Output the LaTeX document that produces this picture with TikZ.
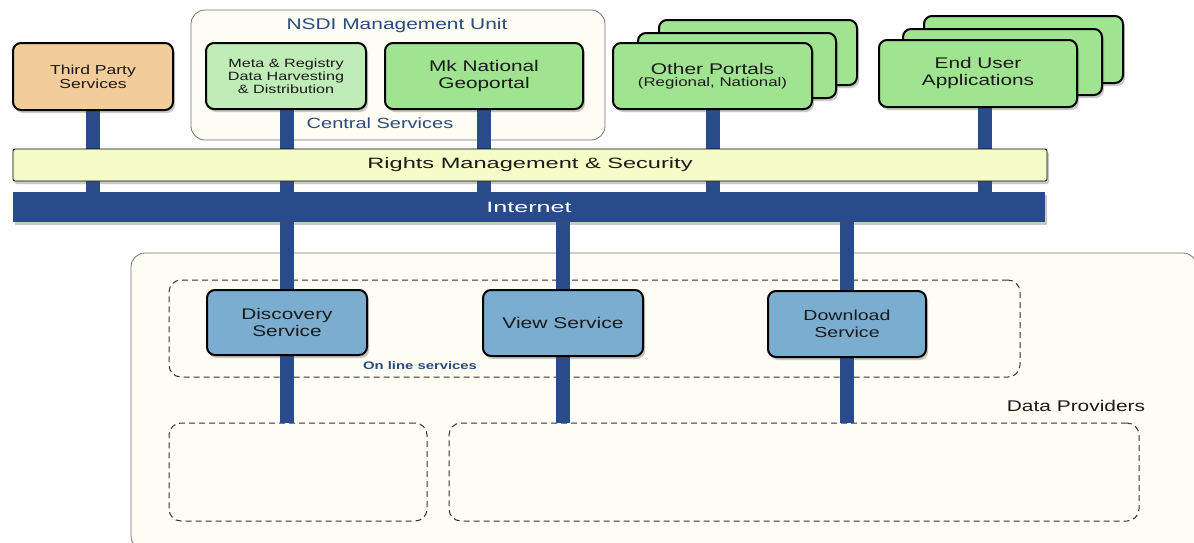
\documentclass[tikz,border=0pt]{standalone}
\usepackage{graphicx}
\usepackage{fontspec}
\setmainfont{Liberation Sans}[FakeStretch=1.35]
\usetikzlibrary{shadows}
\definecolor{conn}{HTML}{2A4B8A}
\definecolor{cream}{HTML}{FDFDF3}
\definecolor{rightsfill}{HTML}{F5FCC7}
\definecolor{orangefill}{HTML}{F2CD9B}
\definecolor{lightgreen}{HTML}{C0ECB8}
\definecolor{green}{HTML}{A0E391}
\definecolor{svcblue}{HTML}{7BADD0}
\definecolor{titleblue}{HTML}{2C4A7E}
\definecolor{txt}{HTML}{1A1A1A}
\pgfdeclarelayer{bg}
\pgfdeclarelayer{lines}
\pgfsetlayers{bg,lines,main}
\tikzset{
  shad/.style={drop shadow={shadow xshift=2pt, shadow yshift=-3pt, opacity=0.3, fill=black!70}},
  box/.style={draw=black, line width=2pt, rounded corners=8pt, align=center, text=txt, inner sep=0pt, shad},
  container/.style={draw=black!55, line width=0.8pt, rounded corners=14pt, fill=cream, inner sep=0pt},
  dashbox/.style={draw=black!80, dashed, dash pattern=on 6pt off 4pt, line width=1pt, rounded corners=12pt, inner sep=0pt},
  connector/.style={draw=conn, line width=14pt},
  fs/.style={font=\fontsize{#1}{17}\selectfont}
}
\begin{document}
\begin{tikzpicture}[x=1pt,y=-1pt]
\useasboundingbox (0,0) rectangle (1194,542);
% containers
\begin{pgfonlayer}{bg}
\node[container, minimum width=414pt, minimum height=130pt] (nsdi) at (398,75) {};
\node[container, minimum width=1066pt, minimum height=297pt] (dp) at (664,401.5) {};
\node[dashbox, minimum width=851pt, minimum height=97pt] (online) at (594.5,328.5) {};
\node[dashbox, minimum width=258pt, minimum height=98pt] (dpl) at (298,472) {};
\node[dashbox, minimum width=690pt, minimum height=98pt] (dpr) at (794,472) {};
\end{pgfonlayer}
% labels
\node[text=titleblue, fs=15.5] (nsdititle) at (397,25.5) {NSDI Management Unit};
\node[text=titleblue, fs=14.8] (central) at (380,123.5) {Central Services};
\node[text=titleblue, font=\fontsize{11}{12}\selectfont\bfseries] (onlinelbl) at (420,366) {On line services};
\node[text=txt, fs=15.5] (dplbl) at (1076,405.5) {Data Providers};
% top boxes
\node[box, fill=orangefill, minimum width=160pt, minimum height=67pt, font=\fontsize{13}{14}\selectfont] (third) at (93,76.5) {Third Party\\Services};
\node[box, fill=lightgreen, minimum width=160pt, minimum height=66pt, font=\fontsize{12}{13}\selectfont] (meta) at (286,76) {Meta \& Registry\\Data Harvesting\\\& Distribution};
\node[box, fill=green, minimum width=198pt, minimum height=66pt, font=\fontsize{15.4}{17}\selectfont] (geo) at (484,76) {Mk National\\Geoportal};
\node[box, fill=green, minimum width=198pt, minimum height=65pt] (otherb) at (758,52.5) {};
\node[box, fill=green, minimum width=198pt, minimum height=65pt] (otherm) at (737,65.5) {};
\node[box, fill=green, minimum width=199pt, minimum height=66pt] (other) at (712.5,76) {{\fontsize{15.5}{17}\selectfont Other Portals}\\[0pt]{\fontsize{12.5}{14}\selectfont (Regional, National)}};
\node[box, fill=green, minimum width=199pt, minimum height=67pt] (eub) at (1023.5,49.5) {};
\node[box, fill=green, minimum width=199pt, minimum height=66pt] (eum) at (1002.5,62) {};
\node[box, fill=green, minimum width=198pt, minimum height=67pt, font=\fontsize{15.4}{17}\selectfont] (eu) at (978,73.5) {End User\\Applications};
% bars
\node[draw=black, line width=0.8pt, rounded corners=2pt, fill=rightsfill, minimum width=1034pt, minimum height=32pt, inner sep=0pt, text=txt, fs=15, shad] (rights) at (530,165) {\raisebox{-2pt}{\scalebox{1.165}[1]{Rights Management \& Security}}};
\node[fill=conn, minimum width=1032pt, minimum height=30pt, inner sep=0pt, text=white, fs=15, shad] (internet) at (529,207) {\raisebox{-1pt}{\scalebox{1.24}[1]{Internet}}};
% services
\node[box, fill=svcblue, minimum width=160pt, minimum height=65pt, font=\fontsize{15.4}{17}\selectfont] (disc) at (287,322.5) {Discovery\\Service};
\node[box, fill=svcblue, minimum width=160pt, minimum height=66pt, font=\fontsize{15.6}{17}\selectfont] (view) at (563,323) {View Service};
\node[box, fill=svcblue, minimum width=158pt, minimum height=66pt, font=\fontsize{14.5}{16.5}\selectfont] (down) at (847,324) {Download\\Service};
% connectors
\begin{pgfonlayer}{lines}
\draw[connector] (third.south) -- (third.south |- internet.north);
\draw[connector] ([xshift=1pt]meta.south) -- ([xshift=1pt]meta.south |- internet.north);
\draw[connector] (geo.south) -- (geo.south |- internet.north);
\draw[connector] (other.south) -- (other.south |- internet.north);
\draw[connector] ([xshift=7pt]eu.south) -- ([xshift=7pt]eu.south |- internet.north);
\draw[connector] (disc.north |- internet.south) -- (disc.south |- dpl.north);
\draw[connector] (view.north |- internet.south) -- (view.south |- dpr.north);
\draw[connector] (down.north |- internet.south) -- (down.south |- dpr.north);
\end{pgfonlayer}
\end{tikzpicture}
\end{document}
